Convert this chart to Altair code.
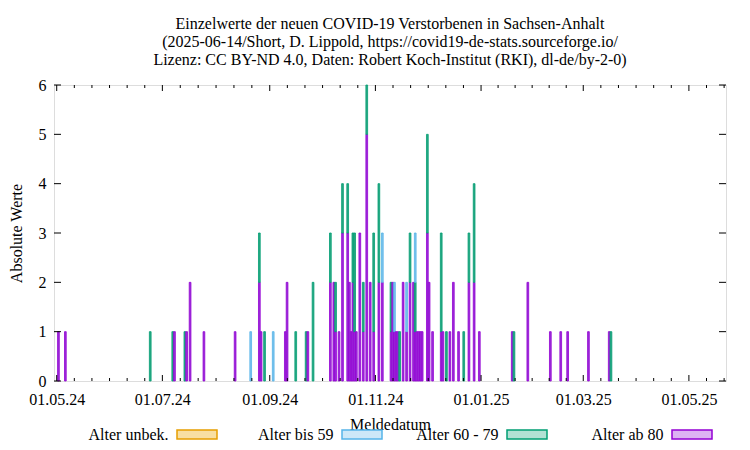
import altair as alt
import pandas as pd

dates = ["2024-05-02","2024-05-06","2024-06-24","2024-07-07","2024-07-08","2024-07-14","2024-07-15","2024-07-17",
         "2024-07-25","2024-08-12","2024-08-21","2024-08-26","2024-08-27","2024-08-29","2024-09-03","2024-09-10",
         "2024-09-11","2024-09-16","2024-09-22","2024-09-23","2024-09-26","2024-10-06","2024-10-08","2024-10-09",
         "2024-10-11","2024-10-13","2024-10-16","2024-10-17","2024-10-18","2024-10-19","2024-10-20","2024-10-21",
         "2024-10-23","2024-10-25","2024-10-27","2024-10-29","2024-10-31","2024-11-03","2024-11-05","2024-11-10",
         "2024-11-11","2024-11-12","2024-11-13","2024-11-14","2024-11-15","2024-11-17","2024-11-19","2024-11-21",
         "2024-11-23","2024-11-24","2024-11-25","2024-11-26","2024-11-27","2024-11-28","2024-12-01","2024-12-02",
         "2024-12-04","2024-12-09","2024-12-10","2024-12-12","2024-12-14","2024-12-16","2024-12-19","2024-12-22",
         "2024-12-25","2024-12-28","2024-12-31","2025-01-19","2025-01-20","2025-01-28","2025-02-10","2025-02-16",
         "2025-02-20","2025-03-04","2025-03-16","2025-03-17"]
ab80 =  [1,1,0,0,1,0,1,2, 1,1,0,2,1,0,0,1, 2,0,0,1,0,2,2,1, 1,3,3,2,1,2,1,1,
         3,1,5,2,1,2,2,1, 2,1,1,1,0,2,1,2, 2,1,1,1,1,1,3,2, 1,1,1,0,1,2,1,0,
         2,2,1,1,0,2,1,1, 1,1,1,0]
a6079 = [0,0,1,1,0,1,0,0, 0,0,0,1,0,1,0,0, 0,1,1,0,2,1,0,1, 0,1,1,0,0,1,2,0,
         0,1,1,0,2,2,0,1, 0,0,0,0,1,0,0,1, 0,1,0,0,0,0,2,0, 0,2,0,1,0,0,0,1,
         1,2,0,0,1,0,0,0, 0,0,0,1]
bis59 = [0,0,0,0,0,0,0,0, 0,0,1,0,0,0,1,0, 0,0,0,0,0,0,0,0, 0,0,0,0,0,0,0,0,
         0,0,0,0,0,0,1,0, 0,1,0,0,0,0,1,0, 0,1,0,0,0,0,0,0, 0,0,0,0,0,0,0,0,
         0,0,0,0,0,0,0,0, 0,0,0,0]
unbek = [0] * len(dates)

categories = ["Alter unbek.", "Alter bis 59", "Alter 60 - 79", "Alter ab 80"]
bar_colors = ["#eeb53a", "#7cc3ec", "#2ba984", "#9a30da"]
swatch_fill = ["#f8dfa2", "#cde8f8", "#b2e1d4", "#ddb3f3"]
swatch_stroke = ["#e69f00", "#56b4e9", "#009e73", "#9400d3"]

major_ticks = ["2024-05-01","2024-07-01","2024-09-01","2024-11-01","2025-01-01","2025-03-01","2025-05-01"]
y_ticks = [0, 1, 2, 3, 4, 5, 6]

title_lines = ["Einzelwerte der neuen COVID-19 Verstorbenen in Sachsen-Anhalt",
               "(2025-06-14/Short, D. Lippold, https://covid19-de-stats.sourceforge.io/",
               "Lizenz: CC BY-ND 4.0, Daten: Robert Koch-Institut (RKI), dl-de/by-2-0)"]

FONT = "Liberation Serif"
W, H = 672, 296

# stacked long table: ab 80 at bottom, then 60-79, bis 59, unbek.
rows = []
series = {"Alter ab 80": ab80, "Alter 60 - 79": a6079, "Alter bis 59": bis59, "Alter unbek.": unbek}
for i, d in enumerate(dates):
    base = 0
    t = pd.Timestamp(d)
    for cat in ["Alter ab 80", "Alter 60 - 79", "Alter bis 59", "Alter unbek."]:
        v = series[cat][i]
        if v > 0:
            rows.append({"start": t - pd.Timedelta(hours=12), "end": t + pd.Timedelta(hours=12),
                         "cat": cat, "y0": base, "y1": base + v})
            base += v
bars_df = pd.DataFrame(rows)

xscale = alt.Scale(domain=[alt.DateTime(year=2024, month=4, date=29, hours=10, minutes=30),
                           alt.DateTime(year=2025, month=5, date=22, hours=10)])
yscale = alt.Scale(domain=[0, 6], nice=False)

major_dt = [pd.Timestamp(m) for m in major_ticks]
minor = []
for a, b in zip(major_dt[:-1], major_dt[1:]):
    step = (b - a) / 6
    for k in range(1, 6):
        minor.append(a + step * k)
step = (major_dt[-1] - major_dt[-2]) / 6
minor += [major_dt[-1] + step, major_dt[-1] + step * 2]
maj_df = pd.DataFrame({"d": major_dt})
min_df = pd.DataFrame({"d": minor})
yt_df = pd.DataFrame({"v": y_ticks})

bars = alt.Chart(bars_df).mark_bar(strokeWidth=0.8).encode(
    x=alt.X("start:T", scale=xscale,
            axis=alt.Axis(values=[alt.DateTime(year=m.year, month=m.month, date=m.day) for m in major_dt],
                          format="%d.%m.%y", title="Meldedatum", tickSize=0, domain=False, grid=False,
                          labelFont=FONT, labelFontSize=16, labelColor="black", labelPadding=10,
                          labelFlush=False, titleFont=FONT, titleFontSize=16, titleFontWeight="normal",
                          titleColor="black", titlePadding=9)),
    x2="end:T",
    y=alt.Y("y0:Q", scale=yscale,
            axis=alt.Axis(values=y_ticks, title="Absolute Werte", tickSize=0, domain=False, grid=False,
                          labelFont=FONT, labelFontSize=16, labelColor="black", labelPadding=8,
                          titleFont=FONT, titleFontSize=16, titleFontWeight="normal", titleColor="black",
                          titlePadding=14)),
    y2="y1:Q",
    color=alt.Color("cat:N", scale=alt.Scale(domain=categories, range=bar_colors), legend=None),
    stroke=alt.Stroke("cat:N", scale=alt.Scale(domain=categories, range=swatch_stroke), legend=None),
)

tick_color = "black"
maj_bottom = alt.Chart(maj_df).mark_rule(color=tick_color).encode(x=alt.X("d:T", scale=xscale), y=alt.value(H), y2=alt.value(H - 6))
maj_top = alt.Chart(maj_df).mark_rule(color=tick_color).encode(x=alt.X("d:T", scale=xscale), y=alt.value(0), y2=alt.value(6))
min_bottom = alt.Chart(min_df).mark_rule(color=tick_color).encode(x=alt.X("d:T", scale=xscale), y=alt.value(H), y2=alt.value(H - 3))
min_top = alt.Chart(min_df).mark_rule(color=tick_color).encode(x=alt.X("d:T", scale=xscale), y=alt.value(0), y2=alt.value(3))
y_left = alt.Chart(yt_df).mark_rule(color=tick_color).encode(y=alt.Y("v:Q", scale=yscale), x=alt.value(0), x2=alt.value(7))
y_right = alt.Chart(yt_df).mark_rule(color=tick_color).encode(y=alt.Y("v:Q", scale=yscale), x=alt.value(W - 7), x2=alt.value(W))

leg_df = pd.DataFrame({"cat": categories, "idx": list(range(len(categories))),
                       "fill": swatch_fill, "stroke": swatch_stroke})
leg_base = alt.Chart(leg_df).transform_calculate(
    lx="123 + datum.idx * 165", lx2="163 + datum.idx * 165", tx="114.5 + datum.idx * 165")
leg_rect = leg_base.mark_rect(strokeWidth=1.5).encode(
    x=alt.X("lx:Q", scale=None, axis=None), x2="lx2:Q",
    y=alt.value(345), y2=alt.value(354),
    fill=alt.Fill("fill:N", scale=None), stroke=alt.Stroke("stroke:N", scale=None))
leg_text = leg_base.mark_text(align="right", baseline="middle", font=FONT, fontSize=16, color="black").encode(
    x=alt.X("tx:Q", scale=None, axis=None), y=alt.value(349.5), text="cat:N")

chart = alt.layer(bars, maj_bottom, maj_top, min_bottom, min_top, y_left, y_right, leg_rect, leg_text).properties(
    width=W, height=H,
    title=alt.TitleParams(text=title_lines, font=FONT, fontSize=16, fontWeight="normal", color="black",
                          anchor="middle", offset=9, lineHeight=18),
    autosize=alt.AutoSizeParams(type="none"),
    padding={"left": 46, "top": 77, "right": 16, "bottom": 61},
).configure_view(stroke="black", strokeWidth=1).configure(background="white")

chart.save("out.html", embed_options={"renderer": "svg", "actions": False})
